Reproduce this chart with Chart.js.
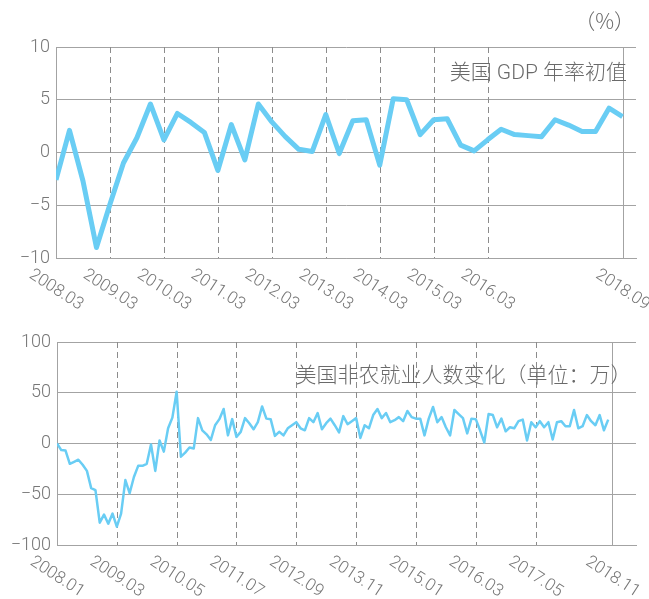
<!DOCTYPE html>
<html><head><meta charset="utf-8">
<script src="https://cdn.jsdelivr.net/npm/chart.js@4.4.0/dist/chart.umd.min.js"></script>
<style>
html,body{margin:0;padding:0;background:#fff;width:649px;height:599px;overflow:hidden}
.box{position:absolute;left:0;width:649px}
#b1{top:0;height:330px}
#b2{top:300px;height:299px}
canvas{display:block}
</style></head><body>
<div class="box" id="b1"><canvas id="c1" width="649" height="330"></canvas></div>
<div class="box" id="b2"><canvas id="c2" width="649" height="299"></canvas></div>
<script>
// ---- Data: US GDP annualized QoQ (initial), quarterly 2008Q1..2018Q3 ----
const gdpValues = [-2.6, 2.1, -2.7, -9.0, -4.9, -1.0, 1.4, 4.6, 1.2, 3.7,
                   2.85, 1.9, -1.7, 2.65, -0.7, 4.6, 2.9, 1.5, 0.3, 0.1,
                   3.6, -0.1, 3.0, 3.1, -1.2, 5.1, 5.0, 1.7, 3.1, 3.2,
                   0.7, 0.15, 1.2, 2.2, 1.7, 1.6, 1.5, 3.1, 2.6, 2.0,
                   2.0, 4.2, 3.4];
const gdpTickIndex = [0, 4, 8, 12, 16, 20, 24, 28, 32, 42];
const gdpTickLabels = ['2008.03','2009.03','2010.03','2011.03','2012.03','2013.03','2014.03','2015.03','2016.03','2018.09'];
const gdpYTicks = [-10, -5, 0, 5, 10];
const gdpTitle = '美国 GDP 年率初值';
const gdpUnit = '（%）';

// ---- Data: US nonfarm payroll change (10k), monthly 2008.01..2018.10 ----
const nfpValues = [
  0, -6.5, -7, -20, -18, -16, -21, -27, -44, -46,
  -78, -70, -79, -69, -82, -69, -36, -49, -33, -22,
  -22, -20, -1, -27, 3, -8, 15, 25.5, 51, -13,
  -9, -4, -5, 25, 13, 9, 3.5, 18, 24, 34,
  8, 24, 6.5, 11.5, 25, 20, 14, 21, 36.5, 24.5,
  24, 7.5, 11.5, 8, 15, 18, 21, 15, 13, 25,
  21, 30, 14, 20, 24.5, 18, 11, 27, 19, 22,
  25, 5.5, 18, 15, 28, 34, 25, 30, 21, 23,
  26, 22, 32, 26, 24.5, 24.5, 8, 24.5, 36, 21,
  26, 16, 8, 33, 29, 25, 10, 24.5, 24, 13,
  1, 29, 28, 16, 24.5, 12, 16, 15, 22, 23.5,
  3, 21, 16, 22, 16, 21, 4, 21, 22, 17,
  17, 33, 15, 17, 28, 22, 18, 28, 13, 23.5
];
const nfpTickIndex = [0, 14, 28, 42, 56, 70, 84, 98, 112, 130];
const nfpTickLabels = ['2008.01','2009.03','2010.05','2011.07','2012.09','2013.11','2015.01','2016.03','2017.05','2018.11'];
const nfpYTicks = [-100, -50, 0, 50, 100];
const nfpTitle = '美国非农就业人数变化（单位：万）';

const LINE_COLOR = '#69cdf4';
const GRID_COLOR = '#a3a3a3';
const DASH_COLOR = '#8c8c8c';
const TEXT_COLOR = '#777777';
const NUM_FONT = "Roboto, 'Liberation Sans', Arial, sans-serif";
const CJK_FONT = "'Noto Sans CJK SC', 'Noto Sans', sans-serif";

function fmtTick(v){ return v < 0 ? '\u2212' + Math.abs(v) : String(v); }

function decoPlugin(cfg){
  return {
    id: 'deco',
    beforeDatasetsDraw(chart){
      const ctx = chart.ctx, a = chart.chartArea, x = chart.scales.x;
      ctx.save();
      ctx.lineWidth = 1;
      cfg.tickIndex.forEach((v, i) => {
        if (i === 0) return;
        const last = i === cfg.tickIndex.length - 1;
        const px = Math.round(x.getPixelForValue(v)) + 0.5;
        ctx.beginPath();
        ctx.setLineDash(last ? [] : [6, 4]);
        ctx.strokeStyle = last ? GRID_COLOR : DASH_COLOR;
        ctx.moveTo(px, a.top);
        ctx.lineTo(px, a.bottom);
        ctx.stroke();
      });
      ctx.restore();
    },
    afterDraw(chart){
      const ctx = chart.ctx, a = chart.chartArea, x = chart.scales.x;
      ctx.save();
      ctx.fillStyle = TEXT_COLOR;
      ctx.font = '300 17px ' + NUM_FONT;
      ctx.textAlign = 'center';
      ctx.textBaseline = 'middle';
      cfg.tickIndex.forEach((v, i) => {
        const px = x.getPixelForValue(v);
        ctx.save();
        ctx.translate(px, a.bottom + 32);
        ctx.rotate(33 * Math.PI / 180);
        ctx.fillText(cfg.tickLabels[i], 0, 0);
        ctx.restore();
      });
      ctx.fillStyle = '#6a6a6a';
      ctx.textAlign = 'right';
      ctx.textBaseline = 'middle';
      ctx.font = '300 21px ' + cfg.titleFont;
      ctx.fillText(cfg.title, cfg.titleX, cfg.titleY);
      if (cfg.unit) {
        ctx.font = '300 21px ' + CJK_FONT;
        ctx.fillText(cfg.unit, cfg.unitX, cfg.unitY);
      }
      ctx.restore();
    }
  };
}

function makeChart(id, values, yTicks, lineWidth, xMax, padTop, yWidth, xHeight, cfg){
  const pts = values.map((v, i) => ({x: i, y: v}));
  return new Chart(document.getElementById(id), {
    type: 'line',
    data: { datasets: [{ data: pts, borderColor: LINE_COLOR, borderWidth: lineWidth,
      borderJoinStyle: 'round', borderCapStyle: 'butt',
      pointRadius: 0, tension: 0, fill: false }] },
    options: {
      responsive: false, animation: false, devicePixelRatio: 1,
      layout: { padding: { top: padTop, right: 13, left: 0, bottom: 0 } },
      plugins: { legend: { display: false }, tooltip: { enabled: false } },
      scales: {
        x: { type: 'linear', min: 0, max: xMax,
          grid: { display: false },
          border: { display: true, color: GRID_COLOR, width: 1 },
          ticks: { display: false },
          afterFit(s){ s.height = xHeight; } },
        y: { min: yTicks[0], max: yTicks[yTicks.length - 1],
          afterBuildTicks(s){ s.ticks = yTicks.map(v => ({value: v})); },
          grid: { color: GRID_COLOR, lineWidth: 1, drawTicks: false },
          border: { display: true, color: GRID_COLOR, width: 1 },
          ticks: { padding: 6, color: TEXT_COLOR, font: { size: 18, weight: '300', family: NUM_FONT },
            callback: (v) => fmtTick(v) },
          afterFit(s){ s.width = yWidth; } }
      }
    },
    plugins: [decoPlugin(cfg)]
  });
}

makeChart('c1', gdpValues, gdpYTicks, 5, 43, 47, 56, 72, {
  tickIndex: gdpTickIndex, tickLabels: gdpTickLabels, title: gdpTitle,
  titleFont: NUM_FONT.replace(', sans-serif', '') + ', ' + CJK_FONT,
  titleX: 627, titleY: 74, unit: gdpUnit, unitX: 635, unitY: 21 });

makeChart('c2', nfpValues, nfpYTicks, 2.5, 135.5, 42, 57, 54, {
  tickIndex: nfpTickIndex, tickLabels: nfpTickLabels, title: nfpTitle,
  titleFont: CJK_FONT,
  titleX: 631.5, titleY: 74 });
</script>
</body></html>
